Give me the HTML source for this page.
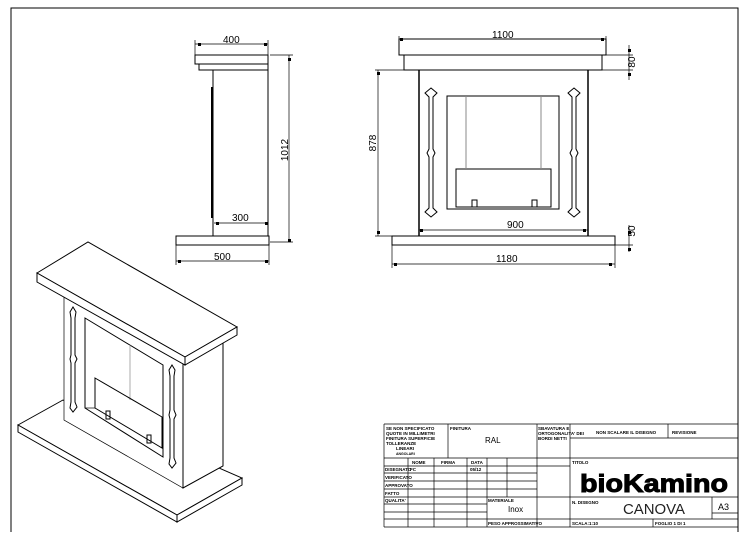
<!DOCTYPE html>
<html><head><meta charset="utf-8"><style>
html,body{margin:0;padding:0;background:#fff}
svg{display:block}
text{font-family:"Liberation Sans",sans-serif}
.t{font-size:4.5px;font-weight:bold}
</style></head><body>
<svg width="745" height="540" viewBox="0 0 745 540" xmlns="http://www.w3.org/2000/svg">
<g fill="none" stroke="#000" stroke-width="1">
<polyline points="11,532 11,8 738,8 738,532"/>
<!-- SIDE VIEW -->
<rect x="195" y="55" width="73" height="9"/>
<rect x="199" y="64" width="69" height="6"/>
<line x1="213" y1="70" x2="213" y2="236"/>
<line x1="212" y1="87" x2="212" y2="218" stroke-width="2"/>
<line x1="268" y1="70" x2="268" y2="236"/>
<rect x="176" y="236" width="93" height="9"/>
<g stroke-width="0.7">
<line x1="195" y1="40" x2="195" y2="55"/><line x1="268" y1="40" x2="268" y2="55"/>
<line x1="195" y1="44" x2="268" y2="44"/>
<line x1="214" y1="223" x2="268" y2="223"/>
<line x1="176" y1="245" x2="176" y2="265"/><line x1="269" y1="245" x2="269" y2="265"/>
<line x1="176" y1="261" x2="269" y2="261"/>
<line x1="270" y1="55" x2="293" y2="55"/><line x1="270" y1="242" x2="293" y2="242"/>
<line x1="289" y1="55" x2="289" y2="242"/>
</g>
<!-- FRONT VIEW -->
<rect x="399" y="39" width="207" height="16"/>
<rect x="404" y="55" width="198" height="15"/>
<line x1="419" y1="70" x2="419" y2="236" stroke-width="1.5"/>
<line x1="588" y1="70" x2="588" y2="236" stroke-width="1.5"/>
<rect x="392" y="236" width="223" height="9"/>
<rect x="447" y="96" width="112" height="113"/>
<rect x="456" y="169" width="95" height="38"/>
<line x1="466" y1="96" x2="466" y2="169" stroke="#888"/>
<line x1="541" y1="96" x2="541" y2="169" stroke="#888"/>
<rect x="472" y="200" width="5" height="7"/><rect x="532" y="200" width="5" height="7"/>
<polygon points="431,88 437,93 433,97 433,149 435,153 433,157 433,208 437,212 431,217 425,212 429,208 429,157 427,153 429,149 429,97 425,93"/>
<polygon points="574,88 580,93 576,97 576,149 578,153 576,157 576,208 580,212 574,217 568,212 572,208 572,157 570,153 572,149 572,97 568,93"/>
<g stroke-width="0.7">
<line x1="399" y1="36" x2="399" y2="45"/><line x1="606" y1="36" x2="606" y2="45"/>
<line x1="399" y1="39" x2="606" y2="39"/>
<line x1="375" y1="70" x2="419" y2="70"/><line x1="375" y1="236" x2="392" y2="236"/>
<line x1="378" y1="70" x2="378" y2="236"/>
<line x1="419" y1="230" x2="588" y2="230"/>
<line x1="392" y1="245" x2="392" y2="268"/><line x1="615" y1="245" x2="615" y2="268"/>
<line x1="392" y1="264" x2="615" y2="264"/>
<line x1="606" y1="55" x2="633" y2="55"/><line x1="602" y1="70" x2="633" y2="70"/>
<line x1="629" y1="45" x2="629" y2="80"/>
<line x1="615" y1="245" x2="633" y2="245"/>
<line x1="629" y1="225" x2="629" y2="252"/>
</g>
<!-- ISO VIEW -->
<g fill="#fff">
<polygon points="18,425 63,400 242,478 177,515"/>
<polygon points="18,425 177,515 177,522 18,432"/>
<polygon points="177,515 242,478 242,485 177,522"/>
<polygon points="64,290 183,358 183,488 64,420" stroke-width="0.7"/>
<polygon points="183,358 223,335 223,466 183,488"/>
</g>
<polygon points="85,318 163,365 163,457 85,408"/>
<line x1="130" y1="345" x2="130" y2="400" stroke="#888" stroke-width="0.7"/>
<polygon points="95,378 162,417 162,448 95,408"/>
<line x1="85" y1="408" x2="95" y2="408" stroke-width="0.7"/>
<rect x="106" y="411" width="4" height="8"/><rect x="147" y="435" width="4" height="8"/>
<path d="M73,307 L76,312 L75,318 L75,355 L77,359 L75,363 L75,402 L77,407 L73,412 L70,408 L71,402 L71,363 L70,359 L71,355 L71,318 L70,312 Z"/>
<path d="M172,365 L175,370 L174,376 L174,410 L176,415 L174,419 L174,458 L176,463 L172,468 L169,464 L170,458 L170,419 L169,415 L170,410 L170,376 L169,370 Z"/>
<g fill="#fff">
<polygon points="37,273 88,242 237,327 185,357"/>
<polygon points="37,273 185,357 185,365 37,282"/>
<polygon points="185,357 237,327 237,335 185,365"/>
</g>
<!-- TITLE BLOCK -->
<g stroke-width="0.7">
<line x1="384" y1="424" x2="738" y2="424"/>
<line x1="384" y1="424" x2="384" y2="527"/>
<line x1="384" y1="527" x2="738" y2="527"/>
<line x1="448" y1="424" x2="448" y2="458"/>
<line x1="537" y1="424" x2="537" y2="527"/>
<line x1="570" y1="424" x2="570" y2="527"/>
<line x1="668" y1="424" x2="668" y2="438"/>
<line x1="570" y1="438" x2="738" y2="438"/>
<line x1="384" y1="458" x2="738" y2="458"/>
<line x1="384" y1="466" x2="570" y2="466"/>
<line x1="384" y1="473" x2="537" y2="473"/>
<line x1="384" y1="481" x2="537" y2="481"/>
<line x1="384" y1="489" x2="537" y2="489"/>
<line x1="384" y1="497" x2="738" y2="497"/>
<line x1="384" y1="504" x2="487" y2="504"/>
<line x1="384" y1="512" x2="487" y2="512"/>
<line x1="384" y1="519" x2="738" y2="519"/>
<line x1="408" y1="458" x2="408" y2="527"/>
<line x1="434" y1="458" x2="434" y2="527"/>
<line x1="467" y1="458" x2="467" y2="527"/>
<line x1="487" y1="458" x2="487" y2="527"/>
<line x1="507" y1="458" x2="507" y2="497"/>
<line x1="712" y1="497" x2="712" y2="519"/>
<line x1="712" y1="513" x2="738" y2="513"/>
<line x1="653" y1="519" x2="653" y2="527"/>
</g>
</g>
<g fill="#000">
<rect x="198" y="43" width="3" height="3"/><rect x="264" y="43" width="3" height="3"/>
<rect x="216" y="222" width="3" height="3"/><rect x="265" y="222" width="3" height="3"/>
<rect x="178" y="260" width="3" height="3"/><rect x="265" y="260" width="3" height="3"/>
<rect x="288" y="58" width="3" height="3"/><rect x="288" y="239" width="3" height="3"/>
<rect x="400" y="38" width="3" height="3"/><rect x="601" y="38" width="3" height="3"/>
<rect x="377" y="72" width="3" height="3"/><rect x="377" y="231" width="3" height="3"/>
<rect x="420" y="229" width="3" height="3"/><rect x="583" y="229" width="3" height="3"/>
<rect x="394" y="263" width="3" height="3"/><rect x="609" y="263" width="3" height="3"/>
<rect x="628" y="49" width="3" height="3"/><rect x="628" y="73" width="3" height="3"/>
<rect x="628" y="231" width="3" height="3"/><rect x="628" y="248" width="3" height="3"/>
</g>
<g font-size="10" fill="#000">
<text x="223" y="43">400</text>
<text x="232" y="221">300</text>
<text x="214" y="260">500</text>
<text x="288" y="150" transform="rotate(-90 288 150)" text-anchor="middle">1012</text>
<text x="492" y="38">1100</text>
<text x="376" y="143" transform="rotate(-90 376 143)" text-anchor="middle">878</text>
<text x="507" y="228">900</text>
<text x="496" y="262">1180</text>
<text x="635" y="62" transform="rotate(-90 635 62)" text-anchor="middle">80</text>
<text x="635" y="231" transform="rotate(-90 635 231)" text-anchor="middle">50</text>
</g>
<g class="t" fill="#000">
<text x="386" y="430">SE NON SPECIFICATO</text>
<text x="386" y="435">QUOTE IN MILLIMETRI</text>
<text x="386" y="440">FINITURA SUPERFICIE</text>
<text x="386" y="445">TOLLERANZE</text>
<text x="396" y="450">LINEARI</text>
<text x="396" y="455" font-size="3.5">ANGOLARI</text>
<text x="450" y="430">FINITURA</text>
<text x="538" y="430">SBAVATURA E</text>
<text x="538" y="435">ORTOGONALITA' DEI</text>
<text x="538" y="440">BORDI NETTI</text>
<text x="596" y="434">NON SCALARE IL DISEGNO</text>
<text x="672" y="434">REVISIONE</text>
<text x="412" y="464">NOME</text><text x="441" y="464">FIRMA</text><text x="471" y="464">DATA</text>
<text x="385" y="471">DISEGNATO</text><text x="410" y="471">FC</text><text x="470" y="471">05/12</text>
<text x="385" y="479">VERIFICATO</text>
<text x="385" y="487">APPROVATO</text>
<text x="385" y="495">FATTO</text>
<text x="385" y="502">QUALITA'</text>
<text x="488" y="502">MATERIALE</text>
<text x="488" y="525">PESO APPROSSIMATIVO</text>
<text x="572" y="464">TITOLO</text>
<text x="572" y="504">N. DISEGNO</text>
<text x="572" y="525">SCALA:1:10</text>
<text x="655" y="525">FOGLIO 1 DI 1</text>
</g>
<g fill="#000">
<text x="485" y="443" font-size="8">RAL</text>
<text x="508" y="512" font-size="8">Inox</text>
<text x="580" y="492" font-size="25" font-weight="bold" stroke="#000" stroke-width="1" textLength="148" lengthAdjust="spacingAndGlyphs">bioKamino</text>
<text x="623" y="514" font-size="15" fill="#222" textLength="62" lengthAdjust="spacingAndGlyphs">CANOVA</text>
<text x="718" y="510" font-size="9">A3</text>
</g>
</svg>
</body></html>
